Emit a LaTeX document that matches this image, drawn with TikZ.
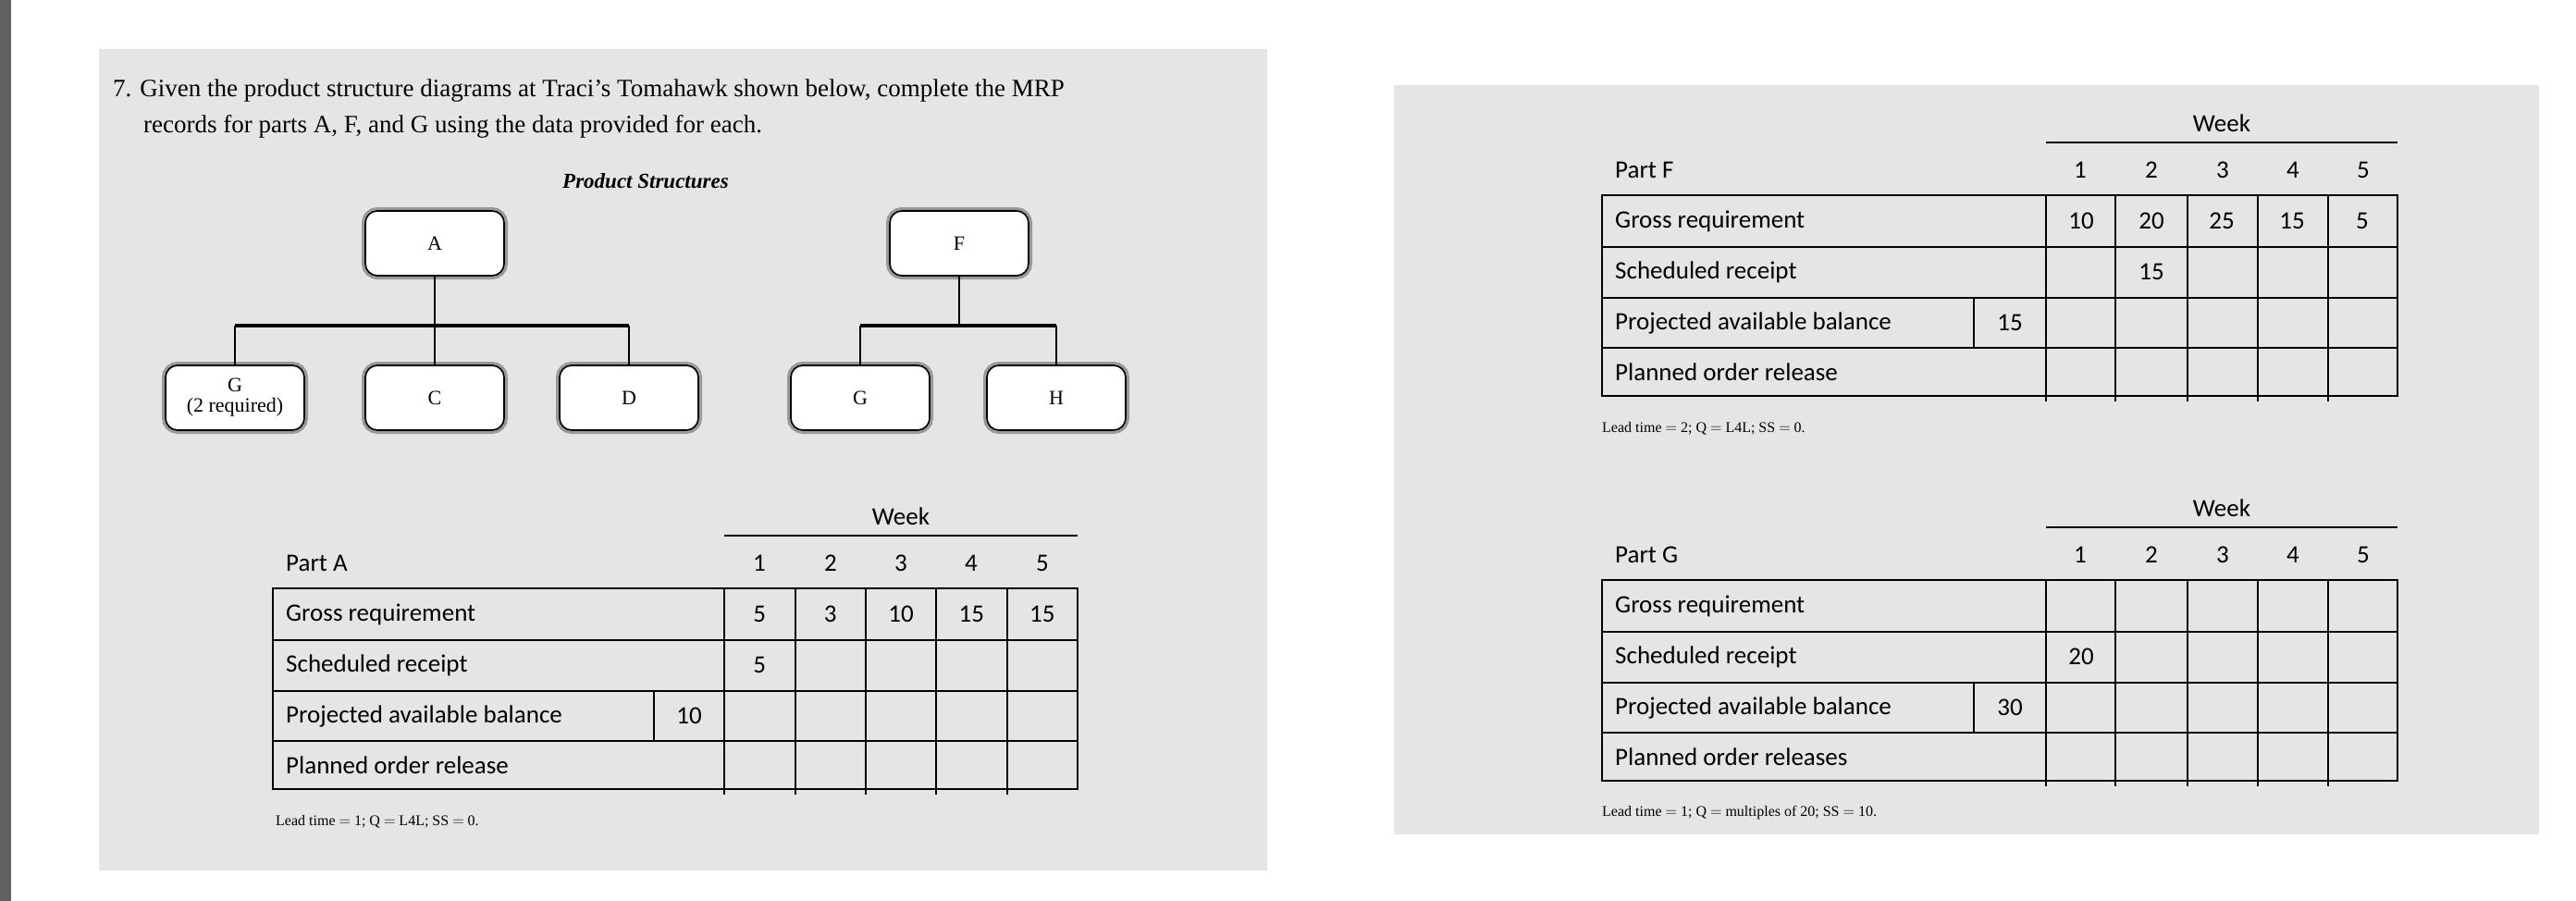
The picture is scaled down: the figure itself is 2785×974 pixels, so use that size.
\documentclass[tikz,border=0pt]{standalone}
\usepackage{fontspec}
\setmainfont{Liberation Serif}
\newfontfamily\tabfont{Carlito}
\tikzset{
  tl/.style={line width=2.4pt,black},
  tv/.style={line width=1.8pt,black},
  pbox/.style={draw=black,line width=1.6pt,rounded corners=13pt,fill=white,minimum width=150pt,minimum height=70pt,align=center,
    font=\fontsize{22}{25}\selectfont,preaction={draw=black!40,line width=8pt}},
  lab/.style={anchor=west,font=\tabfont\fontsize{27}{30}\selectfont,inner sep=0},
  num/.style={font=\tabfont\fontsize{27}{30}\selectfont,inner sep=0},
  foot/.style={anchor=west,font=\fontsize{16}{19}\selectfont,inner sep=0},
  ttl/.style={anchor=west,font=\fontsize{27}{32}\selectfont,inner sep=0},
  conn/.style={line width=2pt},
  bus/.style={line width=4.5pt}
}
\newcommand\mrptab[9]{%
  \begin{scope}[yshift=-#4pt]
  \def\L{#2}\def\D{#3}
  \node[num] (#1wk) at ({(\cA+\cF)/2},-0) {Week};
  \draw[tl] (\cA,-21) -- (\cF,-21);
  \node[lab] (#1part) at (\L+14,-51) {#5};
  \foreach \n/\x in {1/\cAB,2/\cBC,3/\cCD,4/\cDE,5/\cEF} \node[num] (#1h\n) at (\x,-51) {\n};
  \draw[tl] (\L,-78) rectangle (\cF,-295);
  \foreach \y in {-134,-189,-243} \draw[tl] (\L,\y) -- (\cF,\y);
  \foreach \x in {\cA,\cB,\cC,\cD,\cE} \draw[tv] (\x,-78) -- (\x,-301);
  \draw[tv] (\D,-189) -- (\D,-243);
  \node[lab] (#1r1) at (\L+14,-106) {Gross requirement};
  \node[lab] (#1r2) at (\L+14,-161) {Scheduled receipt};
  \node[lab] (#1r3) at (\L+14,-216) {Projected available balance};
  \node[lab] (#1r4) at (\L+14,-269) {#9};
  \node[num] (#1bal) at ({(\D+\cA)/2},-216) {#6};
  \foreach \v [count=\i] in {#7} {\pgfmathsetmacro\xx{\cA+(\i-0.5)*(\cF-\cA)/5}\node[num] (#1g\i) at (\xx,-106) {\v};}
  \foreach \v [count=\i] in {#8} {\pgfmathsetmacro\xx{\cA+(\i-0.5)*(\cF-\cA)/5}\node[num] (#1s\i) at (\xx,-161) {\v};}
  \end{scope}}
\begin{document}
\begin{tikzpicture}[x=1pt,y=1pt]
\useasboundingbox (0,0) rectangle (2785,-974);
\fill[white] (0,0) rectangle (2785,-974);
\fill[black!62] (0,0) rectangle (12,-974);
\fill[black!10] (107,-53) rectangle (1370,-941);
\fill[black!10] (1507,-92) rectangle (2745,-902);
% title
\node[ttl] (t1) at (122,-98) {7. Given the product structure diagrams at Traci’s Tomahawk shown below, complete the MRP};
\node[ttl] (t2) at (155,-137) {records for parts A, F, and G using the data provided for each.};
\node[font=\bfseries\itshape\fontsize{23}{27}\selectfont,inner sep=0] (ps) at (698,-196) {Product Structures};
% boxes
\node[pbox] (A) at (470,-263) {A};
\node[pbox] (F) at (1037,-263) {F};
\node[pbox] (G1) at (254,-430) {G\\[-3pt](2 required)};
\node[pbox] (C) at (470,-430) {C};
\node[pbox] (D) at (680,-430) {D};
\node[pbox] (G2) at (930,-430) {G};
\node[pbox] (H) at (1142,-430) {H};
\coordinate (busA) at (470,-352);
\coordinate (busF) at (1037,-352);
\draw[conn] (A.south) -- (busA);
\draw[bus] (G1.north |- busA) -- (D.north |- busA);
\draw[conn] (G1.north |- busA) -- (G1.north);
\draw[conn] (busA) -- (C.north);
\draw[conn] (D.north |- busA) -- (D.north);
\draw[conn] (F.south) -- (busF);
\draw[bus] (G2.north |- busF) -- (H.north |- busF);
\draw[conn] (G2.north |- busF) -- (G2.north);
\draw[conn] (H.north |- busF) -- (H.north);
% table A
\def\cA{783}\def\cB{860}\def\cC{936}\def\cD{1012}\def\cE{1089}\def\cF{1165}
\def\cAB{821}\def\cBC{898}\def\cCD{974}\def\cDE{1050}\def\cEF{1127}
\mrptab{a}{295}{707}{558}{Part A}{10}{5,3,10,15,15}{5}{Planned order release}
\node[foot] (fa) at (298,-888) {Lead time $=$ 1; Q $=$ L4L; SS $=$ 0.};
% tables F and G
\def\cA{2212}\def\cB{2287}\def\cC{2365}\def\cD{2441}\def\cE{2517}\def\cF{2592}
\def\cAB{2249}\def\cBC{2326}\def\cCD{2403}\def\cDE{2479}\def\cEF{2555}
\mrptab{f}{1732}{2134}{133}{Part F}{15}{10,20,25,15,5}{,15}{Planned order release}
\node[foot] (ff) at (1732,-463) {Lead time $=$ 2; Q $=$ L4L; SS $=$ 0.};
\mrptab{g}{1732}{2134}{549}{Part G}{30}{,}{20}{Planned order releases}
\node[foot] (fg) at (1732,-879) {Lead time $=$ 1; Q $=$ multiples of 20; SS $=$ 10.};
\end{tikzpicture}
\end{document}
